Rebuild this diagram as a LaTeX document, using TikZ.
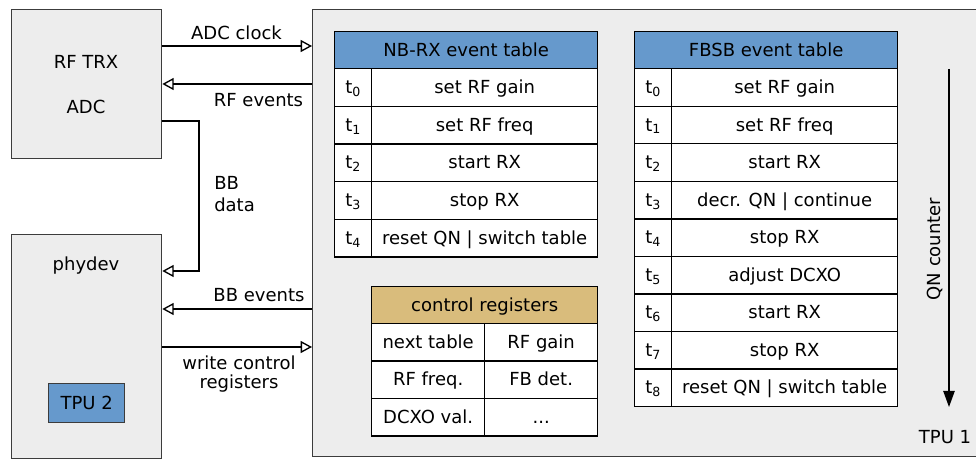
\documentclass[tikz,border=0pt]{standalone}
\usepackage{fontspec}
\setmainfont{DejaVu Sans}
\usetikzlibrary{arrows.meta,calc}
\definecolor{panel}{HTML}{EDEDED}
\definecolor{edge}{HTML}{3C3C3C}
\definecolor{hdrblue}{HTML}{6699CC}
\definecolor{hdrtan}{HTML}{D9BC7C}
\newcommand{\labelfont}{\fontsize{13.5}{16}\selectfont}
\newcommand{\moreregs}{...}
\begin{document}
\begin{tikzpicture}[x=0.75pt,y=-0.75pt, font=\labelfont,
  sz/.style 2 args={minimum width=#1*0.75pt, minimum height=#2*0.75pt},
  block/.style={draw=edge, fill=panel, line width=1pt, inner sep=0pt, anchor=north west},
  cell/.style={draw=black, fill=white, line width=1pt, inner sep=0pt, anchor=north west,
    text height=11pt, text depth=2pt},
  hdr/.style={cell, fill=hdrblue},
  sig/.style={-{Triangle[open,length=8.5pt,width=9pt]}, line width=1pt, draw=black},
  flow/.style={-{Triangle[length=12pt,width=8.5pt]}, line width=1pt, draw=black}
]
\useasboundingbox (0,0) rectangle (976,459);

% outer blocks
\node[block, sz={150}{149}] (rftrx) at (11,9) {};
\node[block, sz={150}{224}] (phy) at (11,234) {};
\node[block, sz={680}{447}] (tpu1) at (312,9) {};

\node (rftxt) at (86,62) {RF TRX};
\node (adctxt) at (86,107) {ADC};
\node (phytxt) at (86,266) {phydev};
\node[cell, draw=edge, fill=hdrblue, sz={76}{39}] (tpu2) at (48,383) {TPU 2};
\node (tpu1txt) at (945,437) {TPU 1};

% NB-RX event table
\node[hdr, sz={263}{37}] (nbh) at (334,31) {NB-RX event table};
\foreach \t [count=\i from 0] in {set RF gain, set RF freq, start RX, stop RX, reset QN | switch table} {
  \node[cell, sz={37}{37.7}] (nbi\i) at (334,68+37.7*\i) {t\textsubscript{\i}};
  \node[cell, sz={226}{37.7}] (nbe\i) at (371,68+37.7*\i) {\t};
}

% FBSB event table
\node[hdr, sz={263}{37}] (fbh) at (634,31) {FBSB event table};
\foreach \t [count=\i from 0] in {set RF gain, set RF freq, start RX, decr. QN | continue, stop RX, adjust DCXO, start RX, stop RX, reset QN | switch table} {
  \node[cell, sz={37}{37.56}] (fbi\i) at (634,68+37.56*\i) {t\textsubscript{\i}};
  \node[cell, sz={226}{37.56}] (fbe\i) at (671,68+37.56*\i) {\t};
}

% control registers
\node[cell, fill=hdrtan, sz={226}{37}] (crh) at (371,286) {control registers};
\foreach \a/\b [count=\i from 0] in {next table/RF gain, RF freq./FB det., DCXO val./\moreregs} {
  \node[cell, sz={113}{37.5}] (cra\i) at (371,323+37.5*\i) {\a};
  \node[cell, sz={113}{37.5}] (crb\i) at (484,323+37.5*\i) {\b};
}

% signal rows
\coordinate (yadc) at (0,46);
\coordinate (yrf) at (0,84);
\coordinate (bbtop) at (199,121);
\coordinate (bbbot) at (199,271);
\coordinate (ybbev) at (0,309);
\coordinate (ywr) at (0,347);

\draw[sig] (rftrx.east |- yadc) -- (tpu1.west |- yadc);
\draw[sig] (tpu1.west |- yrf) -- (rftrx.east |- yrf);
\draw[sig] (rftrx.east |- bbtop) -- (bbtop) -- (bbbot) -- (phy.east |- bbbot);
\draw[sig] (tpu1.west |- ybbev) -- (phy.east |- ybbev);
\draw[sig] (phy.east |- ywr) -- (tpu1.west |- ywr);

\node (adcclk) at (236.5,33) {ADC clock};
\node (rfev) at (258.5,100) {RF events};
\node[anchor=west, inner sep=0pt] (bb1) at (214,183) {BB};
\node[anchor=west, inner sep=0pt] (bb2) at (214,205) {data};
\node (bbev) at (259,295) {BB events};
\node (wr1) at (239,363) {write control};
\node (wr2) at (239,384) {registers};

% QN counter
\coordinate (qtop) at (949,69);
\coordinate (qbot) at (949,407);
\draw[flow] (qtop) -- (qbot);
\node[rotate=90] (qn) at (935,249) {QN counter};
\end{tikzpicture}
\end{document}
